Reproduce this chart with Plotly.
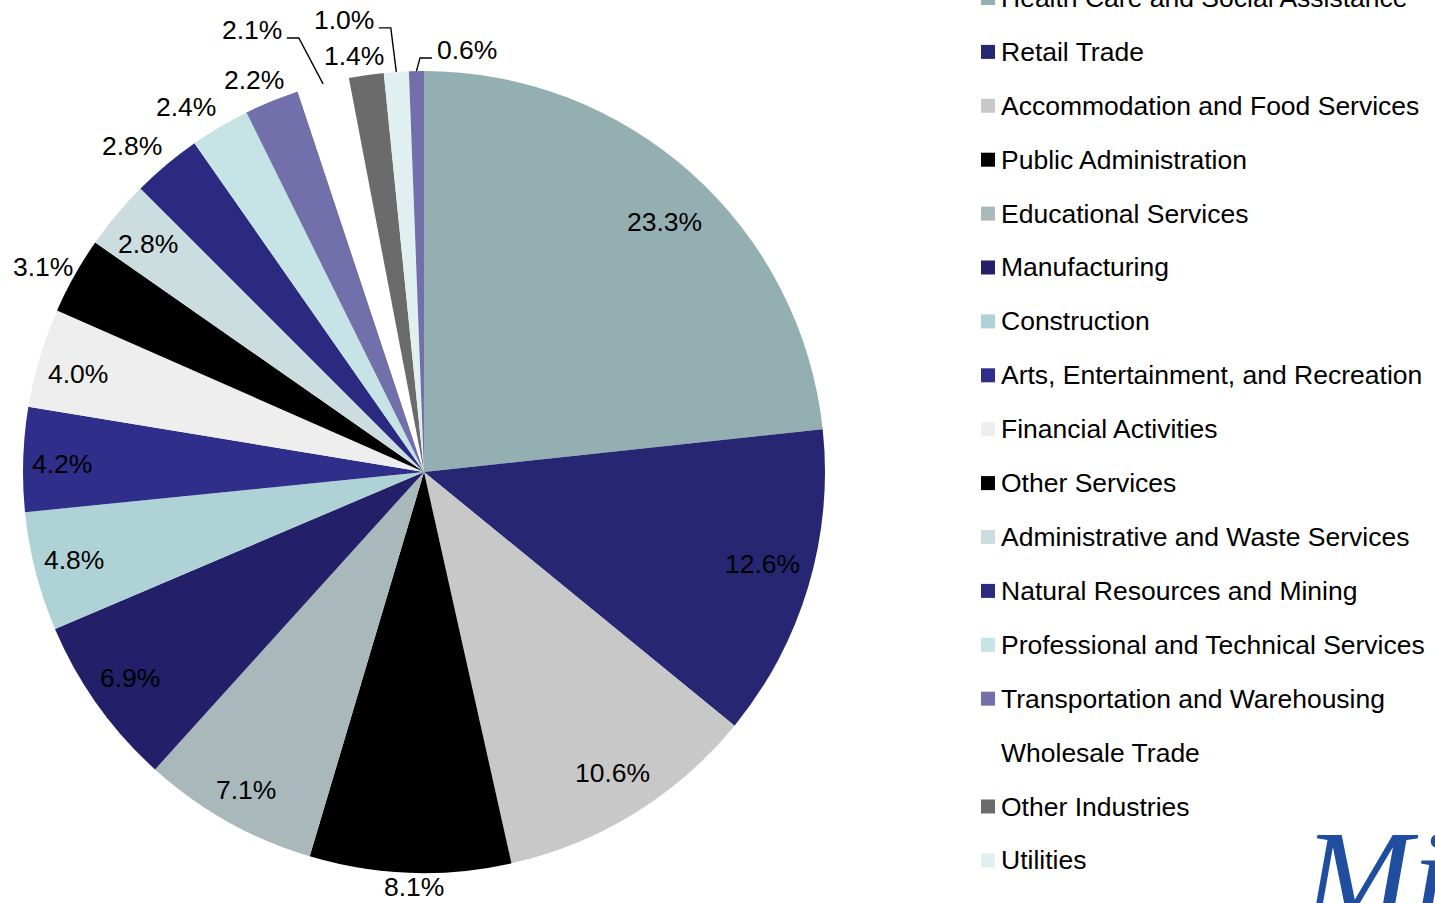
import math
import plotly.graph_objects as go

# ---------------- data ----------------
industries = [
    "Health Care and Social Assistance",
    "Retail Trade",
    "Accommodation and Food Services",
    "Public Administration",
    "Educational Services",
    "Manufacturing",
    "Construction",
    "Arts, Entertainment, and Recreation",
    "Financial Activities",
    "Other Services",
    "Administrative and Waste Services",
    "Natural Resources and Mining",
    "Professional and Technical Services",
    "Transportation and Warehousing",
    "Wholesale Trade",
    "Other Industries",
    "Utilities",
    "Information",
]
shares = [23.3, 12.6, 10.6, 8.1, 7.1, 6.9, 4.8, 4.2, 4.0, 3.1,
          2.8, 2.8, 2.4, 2.2, 2.1, 1.4, 1.0, 0.6]

# ---------------- styles ----------------
colors = ["#94AFB1", "#262673", "#C8C8C8", "#000000", "#A9B9BB", "#231F69",
          "#AED2D5", "#2F2E8A", "#EEEEEE", "#000000", "#CBDDDF", "#2B2A80",
          "#C6E4E6", "#7170AA", "#FFFFFF", "#6B6B6B", "#E0F0F1", "#7170AA"]
label_rfac = [0.866, 0.874, 0.886, 1.036, 0.909, 0.895, 0.900, 0.903, 0.897,
              1.078, 0.893, 1.091, 1.087, 1.066, 1.183, 1.052, 1.145, 1.058]
label_dtheta = [2.0, -1.4, -0.4, -0.6, -0.1, 0.5, 0.3, -0.5, -0.8,
                -1.1, -0.4, -1.9, -2.5, -1.1, -6.7, -1.3, -6.1, 6.9]
has_leader = [False] * 14 + [True, False, True, True]

W, H = 1435, 903
CX, CY, R = 424, 472, 401          # pie centre / radius in pixels
FONT = "Liberation Sans, Arial, sans-serif"
FS = 26.5


def px(x):
    return x / W


def py(y):
    return 1 - y / H


fig = go.Figure()
fig.add_trace(go.Pie(
    labels=industries,
    values=shares,
    sort=False,
    direction="clockwise",
    rotation=0,
    marker=dict(colors=colors, line=dict(width=0)),
    textinfo="none",
    hoverinfo="skip",
    showlegend=False,
    domain=dict(x=[px(CX - R), px(CX + R)], y=[py(CY + R), py(CY - R)]),
))

annotations = []
shapes = []

# percentage labels, placed from each slice's mid angle
total = sum(shares)
cum = 0.0
for i, v in enumerate(shares):
    mid = 360.0 * (cum + v / 2) / total
    cum += v
    th = math.radians(mid + label_dtheta[i])
    r = label_rfac[i] * R
    lx = CX + r * math.sin(th)
    ly = CY - r * math.cos(th)
    annotations.append(dict(
        x=px(lx), y=py(ly), xref="paper", yref="paper",
        text=f"{v:.1f}%", showarrow=False,
        xanchor="center", yanchor="middle",
        font=dict(family=FONT, size=FS, color="#000000"),
    ))
    if has_leader[i]:
        tm = math.radians(mid)
        ex = CX + R * math.sin(tm)
        ey = CY - R * math.cos(tm)
        side = 1 if lx < ex else -1
        sx = lx + side * 35
        sy = ly + 8
        kx = sx + side * 12
        shapes.append(dict(
            type="path", xref="paper", yref="paper",
            path=f"M {px(sx)} {py(sy)} L {px(kx)} {py(sy)} L {px(ex)} {py(ey)}",
            line=dict(color="#000000", width=1.4),
        ))

# legend (manual; like the original it runs past the top edge)
LEG_X_SQ, LEG_X_TXT, LEG_Y0, LEG_DY, SQ = 981, 999, -2, 53.9, 14
for i, name in enumerate(industries):
    yc = LEG_Y0 + i * LEG_DY
    if yc > H - 20:
        continue
    shapes.append(dict(
        type="rect", xref="paper", yref="paper",
        x0=px(LEG_X_SQ), x1=px(LEG_X_SQ + SQ),
        y0=py(yc + SQ / 2), y1=py(yc - SQ / 2),
        fillcolor=colors[i], line=dict(width=0),
    ))
    annotations.append(dict(
        x=px(LEG_X_TXT), y=py(yc), xref="paper", yref="paper",
        text=name, showarrow=False, xanchor="left", yanchor="middle",
        font=dict(family=FONT, size=FS, color="#000000"),
    ))

# partial logo in the lower right corner
annotations.append(dict(
    x=px(1300), y=py(876), xref="paper", yref="paper",
    text="<i>Mi</i>", showarrow=False, xanchor="left", yanchor="middle",
    font=dict(family="Liberation Serif, serif", size=130, color="#1F4E9E"),
))

fig.update_layout(
    width=W, height=H,
    margin=dict(l=0, r=0, t=0, b=0),
    paper_bgcolor="#FFFFFF",
    plot_bgcolor="#FFFFFF",
    showlegend=False,
    annotations=annotations,
    shapes=shapes,
)

fig.write_html("out.html")
